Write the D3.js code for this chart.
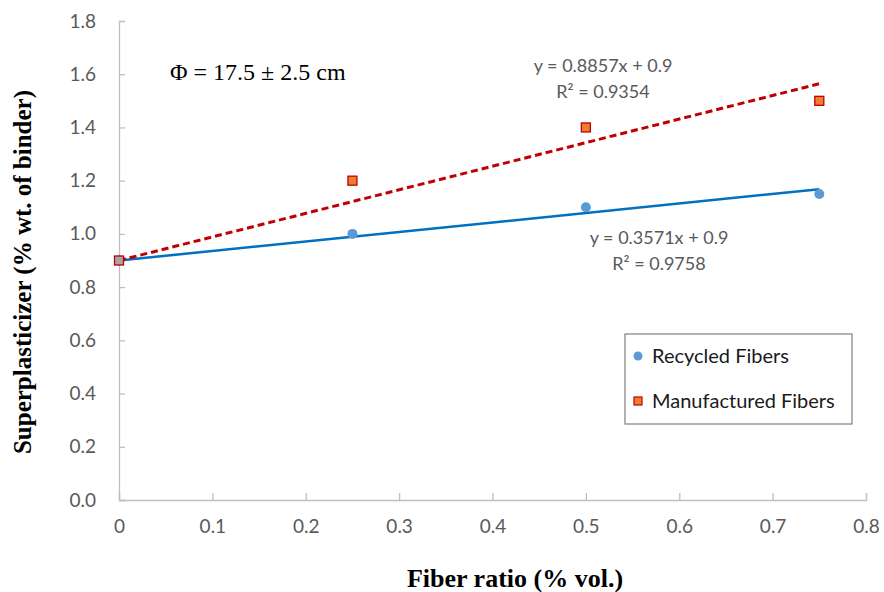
<!DOCTYPE html>
<html>
<head>
<meta charset="utf-8">
<script src="https://cdn.jsdelivr.net/npm/d3@7"></script>
<style>
  body { margin: 0; background: #fff; }
  svg text { font-family: Lato, "Open Sans", sans-serif; }
</style>
</head>
<body>
<svg id="chart" width="884" height="592"></svg>
<script>
var fiberRatio = [0, 0.25, 0.5, 0.75];
var recycled = [0.9, 1.0, 1.1, 1.15];
var manufactured = [0.9, 1.2, 1.4, 1.5];
var xTicks = [0, 0.1, 0.2, 0.3, 0.4, 0.5, 0.6, 0.7, 0.8];
var yTicks = [0, 0.2, 0.4, 0.6, 0.8, 1.0, 1.2, 1.4, 1.6, 1.8];
var fitRecycled = {slope: 0.3571, intercept: 0.9, r2: "0.9758"};
var fitManufactured = {slope: 0.8857, intercept: 0.9, r2: "0.9354"};

var margin = {top: 21, right: 18, bottom: 92, left: 119},
    width = 884 - margin.left - margin.right,
    height = 592 - margin.top - margin.bottom;

var x = d3.scaleLinear().domain([0, 0.8]).range([0, width]);
var y = d3.scaleLinear().domain([0, 1.8]).range([height, 0]);

var svg = d3.select("#chart")
  .append("g")
    .attr("transform", "translate(" + margin.left + "," + margin.top + ")");

var xAxis = d3.axisBottom(x).tickValues(xTicks).tickSize(-7).tickPadding(20)
    .tickFormat(function(d) { return d === 0 ? "0" : d3.format(".1f")(d); });
var yAxis = d3.axisLeft(y).tickValues(yTicks).tickSize(-6).tickPadding(23)
    .tickFormat(d3.format(".1f"));

var gx = svg.append("g")
    .attr("transform", "translate(0," + height + ")")
    .call(xAxis);
var gy = svg.append("g").call(yAxis);

[gx, gy].forEach(function(g) {
  g.select(".domain").attr("stroke", "#bfbfbf").attr("stroke-width", 1.3);
  g.selectAll(".tick line").attr("stroke", "#bfbfbf").attr("stroke-width", 1.3);
  g.selectAll(".tick text").attr("fill", "#595959").style("font-size", "19px");
});

// trend lines
function fitLine(f) {
  return d3.line()
    .x(function(d) { return x(d); })
    .y(function(d) { return y(f.slope * d + f.intercept); });
}
var ends = [0, 0.75];

svg.append("path")
    .datum(ends)
    .attr("d", fitLine(fitRecycled))
    .attr("fill", "none")
    .attr("stroke", "#0070c0")
    .attr("stroke-width", 2.5);

svg.append("path")
    .datum(ends)
    .attr("d", fitLine(fitManufactured))
    .attr("fill", "none")
    .attr("stroke", "#c00000")
    .attr("stroke-width", 3)
    .attr("stroke-dasharray", "7,4");

// points
svg.selectAll(".rec")
    .data(fiberRatio)
  .enter().append("circle")
    .attr("class", "rec")
    .attr("cx", function(d) { return x(d); })
    .attr("cy", function(d, i) { return y(recycled[i]); })
    .attr("r", 5)
    .attr("fill", "#5b9bd5");

svg.selectAll(".man")
    .data(fiberRatio)
  .enter().append("rect")
    .attr("class", "man")
    .attr("x", function(d) { return x(d) - 4.5; })
    .attr("y", function(d, i) { return y(manufactured[i]) - 4.5; })
    .attr("width", 9)
    .attr("height", 9)
    .attr("fill", function(d, i) { return i === 0 ? "#a5a5a5" : "#ed7d31"; })
    .attr("stroke", "#c00000")
    .attr("stroke-width", 1.3);

// equations
function equation(f, cx, cy) {
  var t = svg.append("text")
      .attr("x", cx)
      .attr("y", cy)
      .attr("text-anchor", "middle")
      .attr("fill", "#595959")
      .style("font-size", "18px");
  t.append("tspan").attr("x", cx).attr("dy", 0)
      .text("y = " + f.slope + "x + " + f.intercept);
  t.append("tspan").attr("x", cx).attr("dy", 26)
      .text("R\u00b2 = " + f.r2);
}
equation(fitManufactured, 603 - margin.left, 72 - margin.top);
equation(fitRecycled, 659 - margin.left, 244 - margin.top);

svg.append("text")
    .attr("x", 170 - margin.left)
    .attr("y", 80 - margin.top)
    .style("font-family", "'Liberation Serif', 'Times New Roman', serif")
    .style("font-size", "24px")
    .attr("fill", "#000")
    .text("\u03a6 = 17.5 \u00b1 2.5 cm");

// legend
var legend = svg.append("g")
    .attr("transform", "translate(" + (625 - margin.left) + "," + (334 - margin.top) + ")");
legend.append("rect")
    .attr("width", 227).attr("height", 90)
    .attr("fill", "#fff").attr("stroke", "#808080").attr("stroke-width", 1.2);
legend.append("circle")
    .attr("cx", 13).attr("cy", 22).attr("r", 4.5).attr("fill", "#5b9bd5");
legend.append("rect")
    .attr("x", 9).attr("y", 63).attr("width", 8).attr("height", 8)
    .attr("fill", "#ed7d31").attr("stroke", "#c00000").attr("stroke-width", 1.2);
legend.append("text")
    .attr("x", 27).attr("y", 29)
    .style("font-size", "20px").attr("fill", "#1a1a1a")
    .text("Recycled Fibers");
legend.append("text")
    .attr("x", 27).attr("y", 74)
    .style("font-size", "20px").attr("fill", "#1a1a1a")
    .text("Manufactured Fibers");

// axis titles
svg.append("text")
    .attr("x", 515 - margin.left)
    .attr("y", 587 - margin.top)
    .attr("text-anchor", "middle")
    .style("font-family", "'Liberation Serif', 'Times New Roman', serif")
    .style("font-weight", "bold")
    .style("font-size", "26px")
    .text("Fiber ratio (% vol.)");

svg.append("text")
    .attr("transform", "translate(" + (31 - margin.left) + "," + (272 - margin.top) + ") rotate(-90)")
    .attr("text-anchor", "middle")
    .style("font-family", "'Liberation Serif', 'Times New Roman', serif")
    .style("font-weight", "bold")
    .style("font-size", "25px")
    .text("Superplasticizer (% wt. of binder)");
</script>
</body>
</html>
